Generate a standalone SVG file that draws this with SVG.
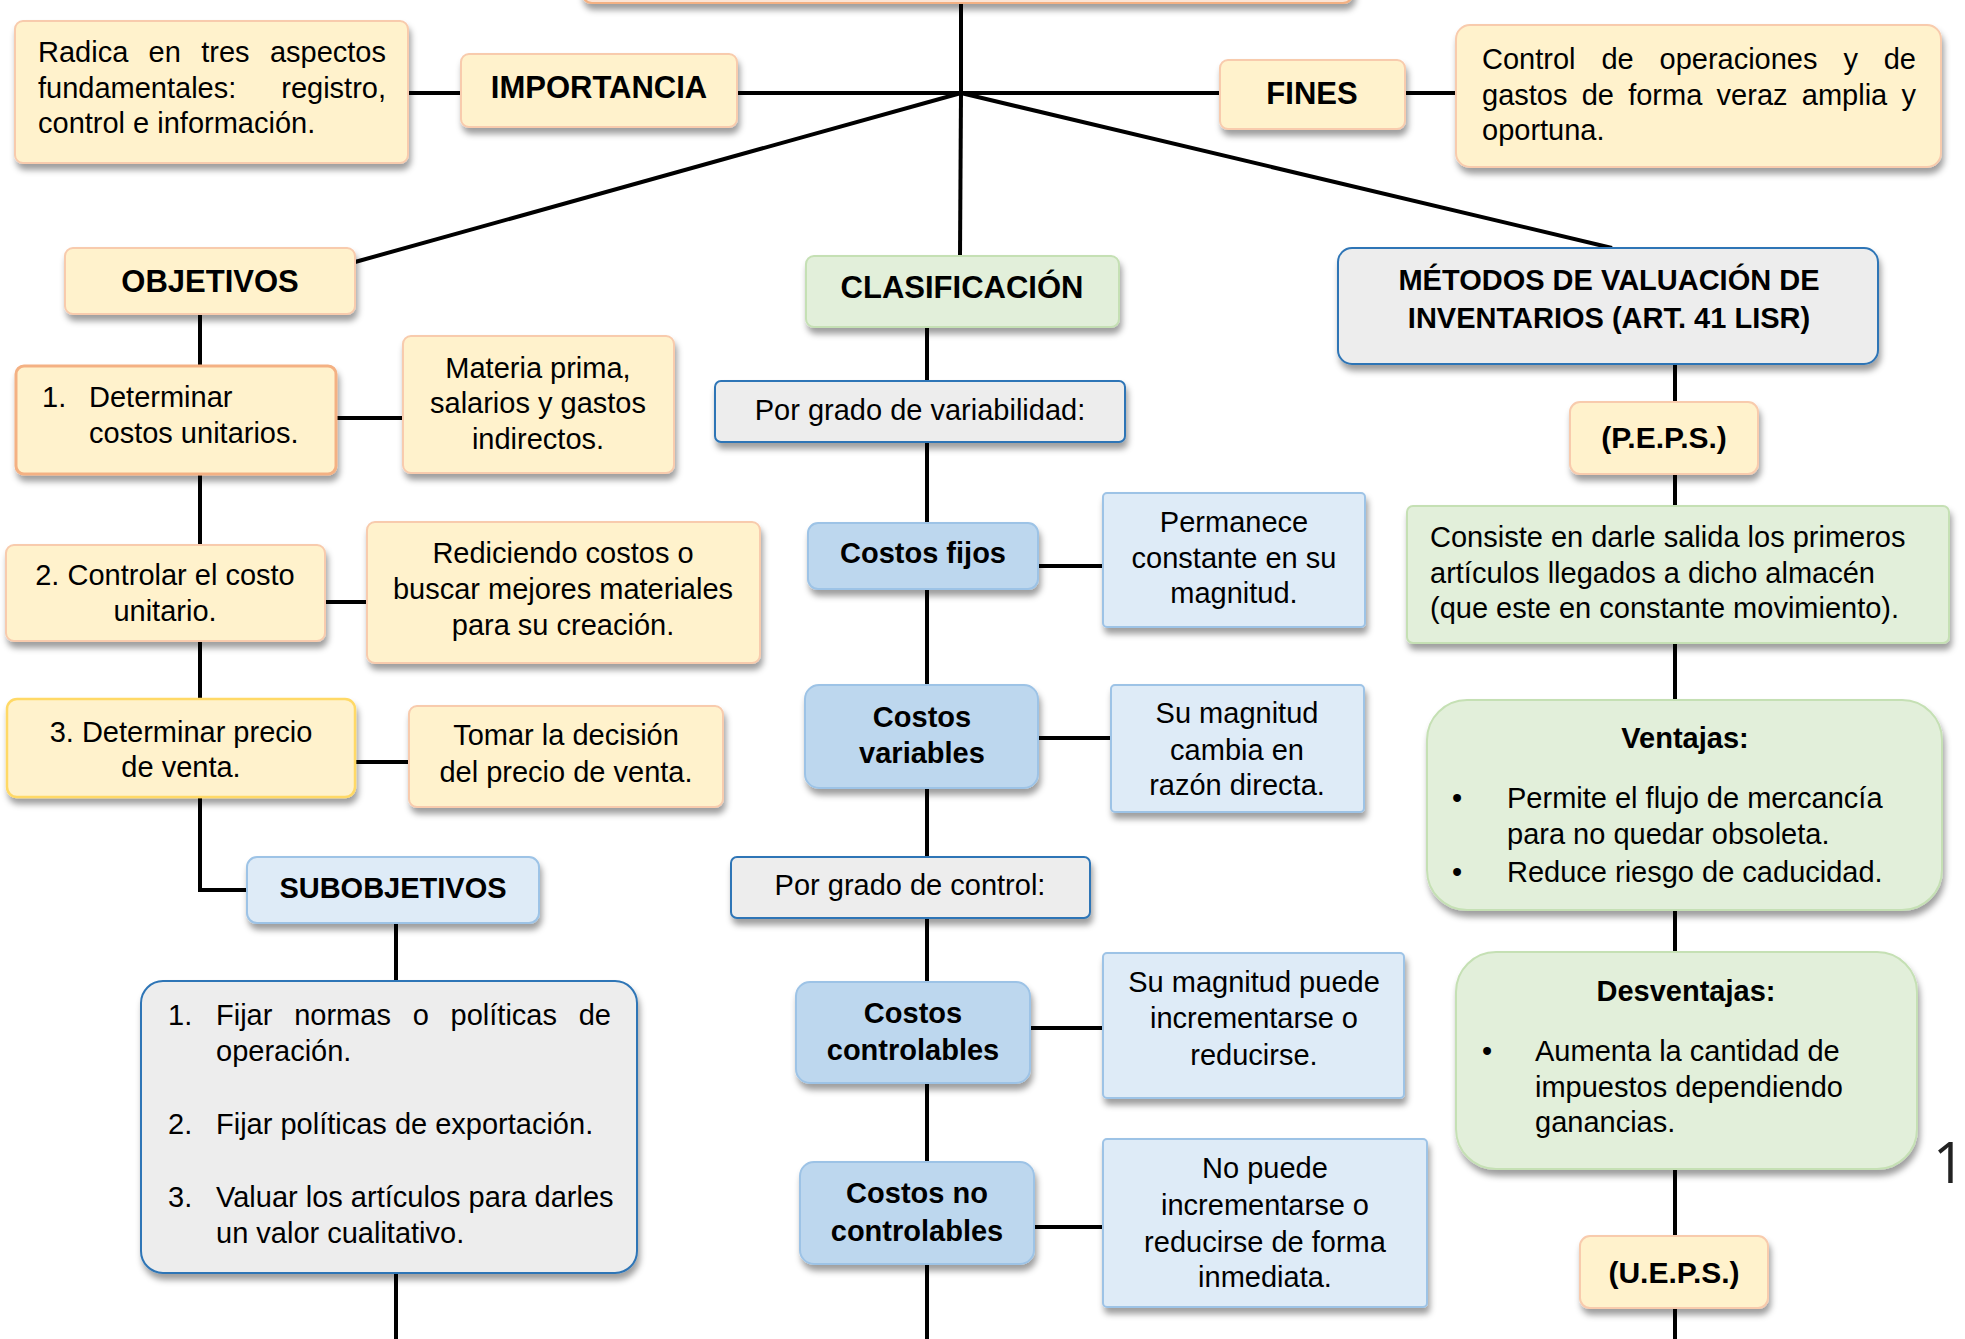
<svg xmlns="http://www.w3.org/2000/svg" width="1965" height="1339" viewBox="0 0 1965 1339">
<defs>
<filter id="sh" x="-10%" y="-10%" width="125%" height="140%">
<feDropShadow dx="2" dy="6" stdDeviation="3" flood-color="#000" flood-opacity="0.38"/>
</filter>
<style>
.t{font-family:'Liberation Sans',Arial,sans-serif;font-size:29px;fill:#000}
.b{font-weight:bold}
.h{font-size:31px}
.c{text-anchor:middle}
.e{text-anchor:end}
.y{fill:#FFF2CC;stroke:#F8CBAD;stroke-width:2}
.g{fill:#E2EFDA;stroke:#C5E0B4;stroke-width:2}
.lb{fill:#DEEBF7;stroke:#9DC3E6;stroke-width:2}
.mb{fill:#BDD7EE;stroke:#9DC3E6;stroke-width:2}
.gr{fill:#EDEDED;stroke:#2E75B6;stroke-width:2}
.ln{stroke:#000;stroke-width:4;fill:none}
</style>
</defs>
<rect width="1965" height="1339" fill="#fff"/>

<g id="connectors">
<line class="ln" x1="961" y1="3" x2="961" y2="93"/>
<line class="ln" x1="737" y1="93" x2="1220" y2="93"/>
<line class="ln" x1="961" y1="93" x2="355" y2="262"/>
<line class="ln" x1="961" y1="93" x2="960" y2="256"/>
<line class="ln" x1="961" y1="93" x2="1612" y2="248"/>
<line class="ln" x1="408" y1="93" x2="461" y2="93"/>
<line class="ln" x1="1405" y1="93" x2="1456" y2="93"/>
<path class="ln" d="M200 314 V890 H247"/>
<line class="ln" x1="336" y1="418" x2="403" y2="418"/>
<line class="ln" x1="325" y1="602" x2="367" y2="602"/>
<line class="ln" x1="355" y1="762" x2="409" y2="762"/>
<line class="ln" x1="396" y1="923" x2="396" y2="1339"/>
<line class="ln" x1="927" y1="327" x2="927" y2="1339"/>
<line class="ln" x1="1038" y1="566" x2="1103" y2="566"/>
<line class="ln" x1="1038" y1="738" x2="1111" y2="738"/>
<line class="ln" x1="1030" y1="1028" x2="1103" y2="1028"/>
<line class="ln" x1="1034" y1="1227" x2="1103" y2="1227"/>
<line class="ln" x1="1675" y1="364" x2="1675" y2="1339"/>
</g>

<g id="title">
<rect x="582" y="-60" width="771" height="63" rx="10" fill="#FBE5D6" stroke="#F4B183" stroke-width="2" filter="url(#sh)"/>
</g>

<g id="radica">
<rect class="y" x="15" y="21" width="393" height="142" rx="8" filter="url(#sh)"/>
<text class="t" y="62"><tspan x="38">Radica</tspan><tspan x="148.6">en</tspan><tspan x="201.2">tres</tspan><tspan x="386" class="e">aspectos</tspan></text>
<text class="t" y="98"><tspan x="38">fundamentales:</tspan><tspan x="386" class="e">registro,</tspan></text>
<text class="t" x="38" y="133">control e información.</text>
</g>

<g id="importancia">
<rect class="y" x="461" y="54" width="276" height="73" rx="8" filter="url(#sh)"/>
<text class="t b h c" x="599" y="98">IMPORTANCIA</text>
</g>

<g id="fines">
<rect class="y" x="1220" y="60" width="185" height="69" rx="8" filter="url(#sh)"/>
<text class="t b h c" x="1312" y="104">FINES</text>
</g>

<g id="control">
<rect class="y" x="1456" y="25" width="485" height="142" rx="14" filter="url(#sh)"/>
<text class="t" y="69"><tspan x="1482">Control</tspan><tspan x="1601.4">de</tspan><tspan x="1659.5">operaciones</tspan><tspan x="1843.4">y</tspan><tspan x="1916" class="e">de</tspan></text>
<text class="t" y="105"><tspan x="1482">gastos</tspan><tspan x="1581.7">de</tspan><tspan x="1628.2">forma</tspan><tspan x="1716.6">veraz</tspan><tspan x="1801.8">amplia</tspan><tspan x="1916" class="e">y</tspan></text>
<text class="t" x="1482" y="140">oportuna.</text>
</g>

<g id="objetivos">
<rect class="y" x="65" y="248" width="290" height="66" rx="8" filter="url(#sh)"/>
<text class="t b h c" x="210" y="292">OBJETIVOS</text>
</g>

<g id="obj1">
<rect x="16" y="366" width="320" height="108" rx="8" fill="#FFF2CC" stroke="#F4B183" stroke-width="3" filter="url(#sh)"/>
<text class="t" y="407"><tspan x="42">1.</tspan><tspan x="89">Determinar</tspan></text>
<text class="t" x="89" y="443">costos unitarios.</text>
</g>

<g id="materia">
<rect class="y" x="403" y="336" width="271" height="137" rx="8" filter="url(#sh)"/>
<text class="t c" x="538" y="378">Materia prima,</text>
<text class="t c" x="538" y="413">salarios y gastos</text>
<text class="t c" x="538" y="449">indirectos.</text>
</g>

<g id="obj2">
<rect class="y" x="6" y="545" width="319" height="96" rx="8" filter="url(#sh)"/>
<text class="t c" x="165" y="585">2. Controlar el costo</text>
<text class="t c" x="165" y="621">unitario.</text>
</g>

<g id="rediciendo">
<rect class="y" x="367" y="522" width="393" height="141" rx="8" filter="url(#sh)"/>
<text class="t c" x="563" y="563">Rediciendo costos o</text>
<text class="t c" x="563" y="599">buscar mejores materiales</text>
<text class="t c" x="563" y="635">para su creación.</text>
</g>

<g id="obj3">
<rect x="7" y="699" width="348" height="98" rx="10" fill="#FFF2CC" stroke="#FFD966" stroke-width="2.5" filter="url(#sh)"/>
<text class="t c" x="181" y="742">3. Determinar precio</text>
<text class="t c" x="181" y="777">de venta.</text>
</g>

<g id="tomar">
<rect class="y" x="409" y="706" width="314" height="101" rx="8" filter="url(#sh)"/>
<text class="t c" x="566" y="745">Tomar la decisión</text>
<text class="t c" x="566" y="782">del precio de venta.</text>
</g>

<g id="subobjetivos">
<rect class="lb" x="247" y="857" width="292" height="66" rx="10" filter="url(#sh)"/>
<text class="t b c" x="393" y="898">SUBOBJETIVOS</text>
</g>

<g id="sublist">
<rect class="gr" x="141" y="981" width="496" height="292" rx="22" filter="url(#sh)"/>
<text class="t" y="1025"><tspan x="168">1.</tspan><tspan x="216">Fijar</tspan><tspan x="294.2">normas</tspan><tspan x="412.7">o</tspan><tspan x="450.6">políticas</tspan><tspan x="611" class="e">de</tspan></text>
<text class="t" x="216" y="1061">operación.</text>
<text class="t" y="1134"><tspan x="168">2.</tspan><tspan x="216">Fijar políticas de exportación.</tspan></text>
<text class="t" y="1207"><tspan x="168">3.</tspan><tspan x="216">Valuar los artículos para darles</tspan></text>
<text class="t" x="216" y="1243">un valor cualitativo.</text>
</g>

<g id="clasificacion">
<rect class="g" x="806" y="256" width="313" height="71" rx="8" filter="url(#sh)"/>
<text class="t b h c" x="962" y="298">CLASIFICACIÓN</text>
</g>

<g id="variabilidad">
<rect class="gr" x="715" y="381" width="410" height="61" rx="6" filter="url(#sh)"/>
<text class="t c" x="920" y="420">Por grado de variabilidad:</text>
</g>

<g id="fijos">
<rect class="mb" x="808" y="523" width="230" height="66" rx="10" filter="url(#sh)"/>
<text class="t b c" x="923" y="563">Costos fijos</text>
</g>

<g id="permanece">
<rect class="lb" x="1103" y="493" width="262" height="134" rx="4" filter="url(#sh)"/>
<text class="t c" x="1234" y="532">Permanece</text>
<text class="t c" x="1234" y="568">constante en su</text>
<text class="t c" x="1234" y="603">magnitud.</text>
</g>

<g id="variables">
<rect class="mb" x="805" y="685" width="233" height="103" rx="14" filter="url(#sh)"/>
<text class="t b c" x="922" y="727">Costos</text>
<text class="t b c" x="922" y="763">variables</text>
</g>

<g id="sumagnitud">
<rect class="lb" x="1111" y="685" width="253" height="127" rx="4" filter="url(#sh)"/>
<text class="t c" x="1237" y="723">Su magnitud</text>
<text class="t c" x="1237" y="760">cambia en</text>
<text class="t c" x="1237" y="795">razón directa.</text>
</g>

<g id="control-grado">
<rect class="gr" x="731" y="857" width="359" height="61" rx="6" filter="url(#sh)"/>
<text class="t c" x="910" y="895">Por grado de control:</text>
</g>

<g id="controlables">
<rect class="mb" x="796" y="982" width="234" height="101" rx="14" filter="url(#sh)"/>
<text class="t b c" x="913" y="1023">Costos</text>
<text class="t b c" x="913" y="1060">controlables</text>
</g>

<g id="puede">
<rect class="lb" x="1103" y="953" width="301" height="145" rx="4" filter="url(#sh)"/>
<text class="t c" x="1254" y="992">Su magnitud puede</text>
<text class="t c" x="1254" y="1028">incrementarse o</text>
<text class="t c" x="1254" y="1065">reducirse.</text>
</g>

<g id="nocontrolables">
<rect class="mb" x="800" y="1162" width="234" height="102" rx="14" filter="url(#sh)"/>
<text class="t b c" x="917" y="1203">Costos no</text>
<text class="t b c" x="917" y="1241">controlables</text>
</g>

<g id="nopuede">
<rect class="lb" x="1103" y="1139" width="324" height="168" rx="4" filter="url(#sh)"/>
<text class="t c" x="1265" y="1178">No puede</text>
<text class="t c" x="1265" y="1215">incrementarse o</text>
<text class="t c" x="1265" y="1252">reducirse de forma</text>
<text class="t c" x="1265" y="1287">inmediata.</text>
</g>

<g id="metodos">
<rect class="gr" x="1338" y="248" width="540" height="116" rx="14" filter="url(#sh)"/>
<text class="t b c" x="1609" y="290">MÉTODOS DE VALUACIÓN DE</text>
<text class="t b c" x="1609" y="328">INVENTARIOS (ART. 41 LISR)</text>
</g>

<g id="peps">
<rect class="y" x="1570" y="402" width="188" height="72" rx="10" filter="url(#sh)"/>
<text class="t b c" x="1664" y="448" style="font-size:30px">(P.E.P.S.)</text>
</g>

<g id="consiste">
<rect class="g" x="1407" y="506" width="542" height="137" rx="6" filter="url(#sh)"/>
<text class="t" x="1430" y="547">Consiste en darle salida los primeros</text>
<text class="t" x="1430" y="583">artículos llegados a dicho almacén</text>
<text class="t" x="1430" y="618">(que este en constante movimiento).</text>
</g>

<g id="ventajas">
<rect class="g" x="1427" y="700" width="515" height="210" rx="40" filter="url(#sh)"/>
<text class="t b c" x="1685" y="748">Ventajas:</text>
<text class="t c" x="1457" y="808">•</text>
<text class="t" x="1507" y="808">Permite el flujo de mercancía</text>
<text class="t" x="1507" y="844">para no quedar obsoleta.</text>
<text class="t c" x="1457" y="882">•</text>
<text class="t" x="1507" y="882">Reduce riesgo de caducidad.</text>
</g>

<g id="desventajas">
<rect class="g" x="1456" y="952" width="461" height="217" rx="40" filter="url(#sh)"/>
<text class="t b c" x="1686" y="1001">Desventajas:</text>
<text class="t c" x="1487" y="1061">•</text>
<text class="t" x="1535" y="1061">Aumenta la cantidad de</text>
<text class="t" x="1535" y="1097">impuestos dependiendo</text>
<text class="t" x="1535" y="1132">ganancias.</text>
</g>

<g id="ueps">
<rect class="y" x="1580" y="1236" width="188" height="72" rx="10" filter="url(#sh)"/>
<text class="t b c" x="1674" y="1283" style="font-size:30px">(U.E.P.S.)</text>
</g>

<g id="pagenum">
<text x="1933" y="1183" style="font-family:'Open Sans','Noto Sans',sans-serif;font-size:56px;fill:#222">1</text>
</g>
</svg>
